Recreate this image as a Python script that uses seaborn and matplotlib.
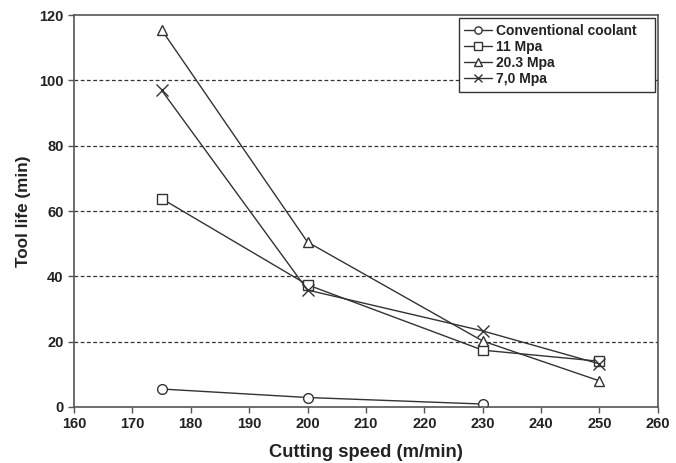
import matplotlib
matplotlib.use("Agg")
import matplotlib.pyplot as plt
import seaborn as sns
import pandas as pd

speeds_conv = [175, 200, 230]
conv = [5.5, 2.9, 0.9]
speeds = [175, 200, 230, 250]
mpa11 = [63.8, 37.4, 17.4, 14.0]
mpa20 = [115.5, 50.5, 20.2, 8.0]
mpa7 = [97.0, 35.8, 23.3, 13.2]
labels = ["Conventional coolant", "11 Mpa", "20.3 Mpa", "7,0 Mpa"]
xticks = [160, 170, 180, 190, 200, 210, 220, 230, 240, 250, 260]
yticks = [0, 20, 40, 60, 80, 100, 120]

sns.set_style("white")
plt.rcParams['font.family'] = ['Liberation Sans', 'DejaVu Sans']

fig = plt.figure(figsize=(6.76, 4.63), dpi=100)
ax = fig.add_axes([0.1095, 0.121, 0.8635, 0.8465])

series = [(speeds_conv, conv, "o", 7), (speeds, mpa11, "s", 7),
          (speeds, mpa20, "^", 7), (speeds, mpa7, "x", 8)]
for (xs, ys, m, ms), lab in zip(series, labels):
    df = pd.DataFrame({"x": xs, "y": ys})
    kw = dict(markerfacecolor="white", markeredgecolor="#333333", markeredgewidth=1.0)
    if m == "x":
        kw = dict(markeredgecolor="#333333", markeredgewidth=1.0)
    sns.lineplot(data=df, x="x", y="y", ax=ax, color="#333333", linewidth=1.0,
                 marker=m, markersize=ms, label=lab, **kw)

ax.set_xlim(160, 260)
ax.set_ylim(0, 120)
ax.set_xticks(xticks)
ax.set_yticks(yticks)
for y in yticks[1:-1]:
    ax.axhline(y, color="#333333", linestyle=(0, (3, 2)), linewidth=0.9, zorder=0)
for s in ax.spines.values():
    s.set_color("#555555")
    s.set_linewidth(1.2)
ax.tick_params(axis="both", direction="out", length=4, width=1, color="#555555",
               labelsize=10.5, bottom=True, left=True)
for t in ax.get_xticklabels() + ax.get_yticklabels():
    t.set_fontweight("bold")
    t.set_color("#222222")
ax.set_xlabel("Cutting speed (m/min)", fontsize=13.2, fontweight="bold", color="#222222", labelpad=9)
ax.set_ylabel("Tool life (min)", fontsize=12.3, fontweight="bold", color="#222222", labelpad=6)

leg = ax.legend(loc="upper left", bbox_to_anchor=(0.659, 0.80, 0.336, 0.192), mode="expand",
                borderaxespad=0, frameon=True, fancybox=False,
                edgecolor="#333333", framealpha=1, prop={"weight": "bold", "size": 10},
                handlelength=2.0, handletextpad=0.3, labelspacing=0.15, borderpad=0.4,
                markerscale=0.75)
leg.get_frame().set_linewidth(1.0)
for t in leg.get_texts():
    t.set_color("#222222")

fig.savefig("out.png", dpi=100)
